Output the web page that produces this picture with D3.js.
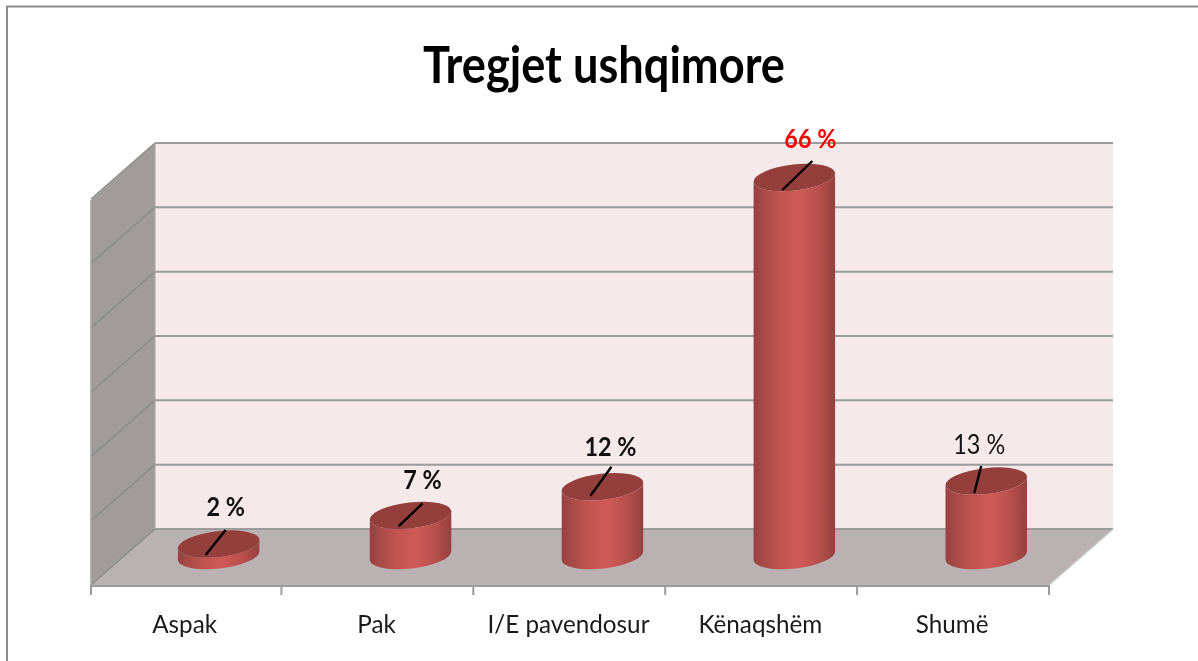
<!DOCTYPE html>
<html><head><meta charset="utf-8">
<script src="https://cdn.jsdelivr.net/npm/d3@7"></script>
<style>html,body{margin:0;padding:0;background:#fff;overflow:hidden}svg{display:block;filter:blur(.5px)}text{font-family:Lato,"Open Sans",sans-serif}</style>
</head><body><div id="c"></div>
<script>
const chartTitle = "Tregjet ushqimore";
const categories = ["Aspak","Pak","I/E pavendosur","Kënaqshëm","Shumë"];
const values = [2,7,12,66,13];
const valueLabels = ["2 %","7 %","12 %","66 %","13 %"];
const gridLevels = [0,1,2,3,4,5,6];

const W=1198,H=661;
const svg=d3.select("#c").append("svg").attr("width",W).attr("height",H);
const defs=svg.append("defs");

svg.append("path").attr("d",`M7,${H} L7,6.5 L${W},6.5`).attr("fill","none").attr("stroke","#8c8c8c").attr("stroke-width",2);

const x0=91,x1=1049,dx=64,dy=56,floorY=585;
const wallTop=143,wallBottom=529;
const gridY=d3.scaleLinear().domain([0,6]).range([wallBottom,wallTop]);
const x=d3.scaleBand().domain(categories).range([x0-1.5,x1]);
const y=d3.scaleLinear().domain([0,66]).range([555.5,177.5]);

svg.append("rect").attr("x",x0+dx).attr("y",wallTop).attr("width",x1-x0).attr("height",wallBottom-wallTop).attr("fill","#f5e9e9");
svg.append("path").attr("d",`M${x0},${wallTop+dy+1} L${x0+dx},${wallTop} L${x0+dx},${wallBottom} L${x0},${floorY} Z`).attr("fill","#a19b9b");
svg.append("path").attr("d",`M${x0},${floorY} L${x0+dx},${wallBottom} L${x1+dx+1},${wallBottom} L${x1},${floorY} Z`).attr("fill","#bab2b2");

const gridColor="#9b9b9b", sideGrid="#8b8e8a";
const grid=svg.append("g");
grid.selectAll("path.side").data(gridLevels).join("path").attr("class","side")
  .attr("d",d=>`M${x0},${gridY(d)+dy} L${x0+dx},${gridY(d)}`)
  .attr("fill","none").attr("stroke",sideGrid).attr("stroke-width",1.6);
grid.selectAll("path.back").data(gridLevels).join("path").attr("class","back")
  .attr("d",d=>`M${x0+dx},${gridY(d)} L${x1+dx},${gridY(d)}`)
  .attr("fill","none").attr("stroke",gridColor).attr("stroke-width",2);
svg.append("path").attr("d",`M${x0},${wallTop+dy+1} L${x0},${floorY}`).attr("stroke","#a5a5a5").attr("stroke-width",1.5);
svg.append("path").attr("d",`M${x0+dx},${wallTop} V${wallBottom}`).attr("stroke","#a5a5a5").attr("stroke-width",1);
svg.append("path").attr("d",`M${x1+dx},${wallBottom} L${x1},${floorY}`).attr("stroke","#c9c9c9").attr("stroke-width",1.5).attr("fill","none");

svg.append("path").attr("d",`M${x0},${floorY+1} H${x1}`).attr("stroke",gridColor).attr("stroke-width",2);
const tickPos=[x0].concat(categories.slice(1).map(c=>x(c))).concat([x1]);
svg.append("g").selectAll("line").data(tickPos).join("line")
  .attr("x1",d=>d).attr("x2",d=>d).attr("y1",floorY).attr("y2",floorY+10)
  .attr("stroke",gridColor).attr("stroke-width",2);

function condense(sel,f){sel.each(function(){const n=this.getComputedTextLength();d3.select(this).attr("textLength",n*f).attr("lengthAdjust","spacingAndGlyphs");});}
svg.append("g").selectAll("text").data(categories).join("text")
  .attr("x",d=>x(d)+x.bandwidth()/2-0.8).attr("y",633).attr("text-anchor","middle")
  .attr("font-size",25).attr("fill","#1a1a1a").text(d=>d).call(condense,.97);

const grad=defs.append("linearGradient").attr("id","cyl").attr("x1",0).attr("x2",1).attr("y1",0).attr("y2",0);
[[0,"#96403e"],[.12,"#a84a48"],[.3,"#c05250"],[.55,"#cf5b58"],[.8,"#b84f4d"],[1,"#96403e"]]
  .forEach(([o,c])=>grad.append("stop").attr("offset",o).attr("stop-color",c));
const rx=41,ry=13,tilt=-6.5,tiltR=tilt*Math.PI/180;
const ex=rx*Math.cos(tiltR),ey=rx*Math.sin(tiltR);
const barData=categories.map((c,i)=>({c,v:values[i],l:valueLabels[i],i}));
const cx=d=>x(d.c)+x.bandwidth()/2+dx/2+1.2;
const bars=svg.append("g").selectAll("g").data(barData).join("g");
bars.append("path").attr("fill","url(#cyl)")
  .attr("d",d=>{const c=cx(d),t=y(d.v),b=y(0);
    return `M${c-ex},${t-ey} L${c-ex},${b-ey} A${rx},${ry} ${tilt} 0 0 ${c+ex},${b+ey} L${c+ex},${t+ey} A${rx},${ry} ${tilt} 0 1 ${c-ex},${t-ey} Z`;});
bars.append("ellipse").attr("rx",rx).attr("ry",ry).attr("fill","#953f3d")
  .attr("transform",d=>`translate(${cx(d)},${y(d.v)}) rotate(${tilt})`);

const leaderStart=[[-13,11],[-12,11],[-12,9],[-12,12.5],[-12,12]];
const leaderEnd=[[7,-14],[12,-12],[9,-20],[18,-16.5],[-5,-15]];
const labelOffset=[[7,-28],[12,-26],[8,-31],[16,-29.5],[-7,-27]];
const labelBold=[true,true,true,true,false];
bars.append("line").attr("stroke","#000").attr("stroke-width",2.4)
  .attr("x1",d=>cx(d)+leaderStart[d.i][0]).attr("y1",d=>y(d.v)+leaderStart[d.i][1])
  .attr("x2",d=>cx(d)+leaderEnd[d.i][0]).attr("y2",d=>y(d.v)+leaderEnd[d.i][1]);
bars.append("text").attr("text-anchor","middle").attr("font-size",26)
  .attr("font-weight",d=>labelBold[d.i]?700:400)
  .attr("fill",d=>d.v===d3.max(values)?"#ff0000":"#111")
  .attr("x",d=>cx(d)+labelOffset[d.i][0]).attr("y",d=>y(d.v)+labelOffset[d.i][1]).text(d=>d.l)
  .call(condense,.9);

svg.append("text").attr("x",604).attr("y",83).attr("text-anchor","middle")
  .attr("font-size",51).attr("font-weight",700).attr("fill","#000")
  .attr("textLength",362).attr("lengthAdjust","spacingAndGlyphs").text(chartTitle);
</script></body></html>
